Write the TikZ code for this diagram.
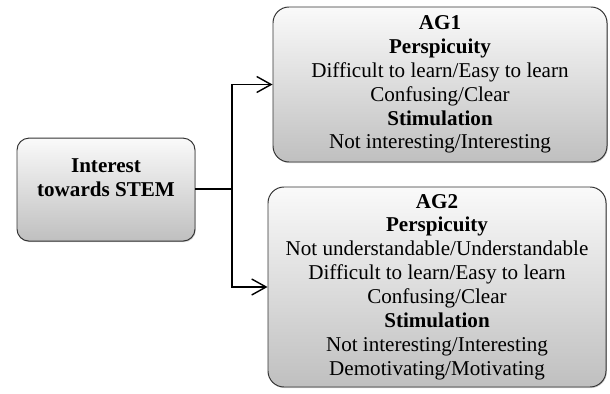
\documentclass[tikz,border=0pt]{standalone}
\usepackage{fontspec}
\setmainfont{Liberation Serif}
\usetikzlibrary{arrows.meta,shadows}

\begin{document}
\begin{tikzpicture}
  \tikzstyle{gbox}=[draw=black!80, line width=0.7pt, rounded corners=0.4cm,
    top color=gray!4, bottom color=gray!50, drop shadow={shadow xshift=0.6pt, shadow yshift=-0.8pt, opacity=0.35}]
  \tikzstyle{gtext}=[align=center, font=\fontsize{15}{17}\selectfont]
  \tikzstyle{link}=[line width=1pt, black]
  \useasboundingbox (0,0) rectangle (15.25,-9.85);
  % left box
  \node[gbox, rounded corners=0.3cm, minimum width=4.45cm, minimum height=2.575cm] (stem) at (2.65,-4.74) {};
  \node[gtext] (stemtext) at ([yshift=0.3cm]stem.center) {\textbf{Interest}\\\textbf{towards STEM}};
  % right boxes
  \node[gbox, gtext, minimum width=8.35cm, minimum height=3.875cm] (ag1) at (11.0,-2.1125)
    {\textbf{AG1}\\\textbf{Perspicuity}\\Difficult to learn/Easy to learn\\Confusing/Clear\\\textbf{Stimulation}\\Not interesting/Interesting};
  \node[gbox, gtext, minimum width=8.45cm, minimum height=5.0cm] (ag2) at (10.925,-7.175)
    {\textbf{AG2}\\\textbf{Perspicuity}\\Not understandable/Understandable\\Difficult to learn/Easy to learn\\Confusing/Clear\\\textbf{Stimulation}\\Not interesting/Interesting\\Demotivating/Motivating};
  % connectors
  \coordinate (split) at (5.8,-4.725);
  \draw[link] (stem.east |- split) -- (split);
  \draw[link, -{Straight Barb[length=3.6mm,width=4mm]}] (split) |- (ag1.west);
  \draw[link, -{Straight Barb[length=3.6mm,width=4mm]}] (split) |- (ag2.west);
\end{tikzpicture}
\end{document}
